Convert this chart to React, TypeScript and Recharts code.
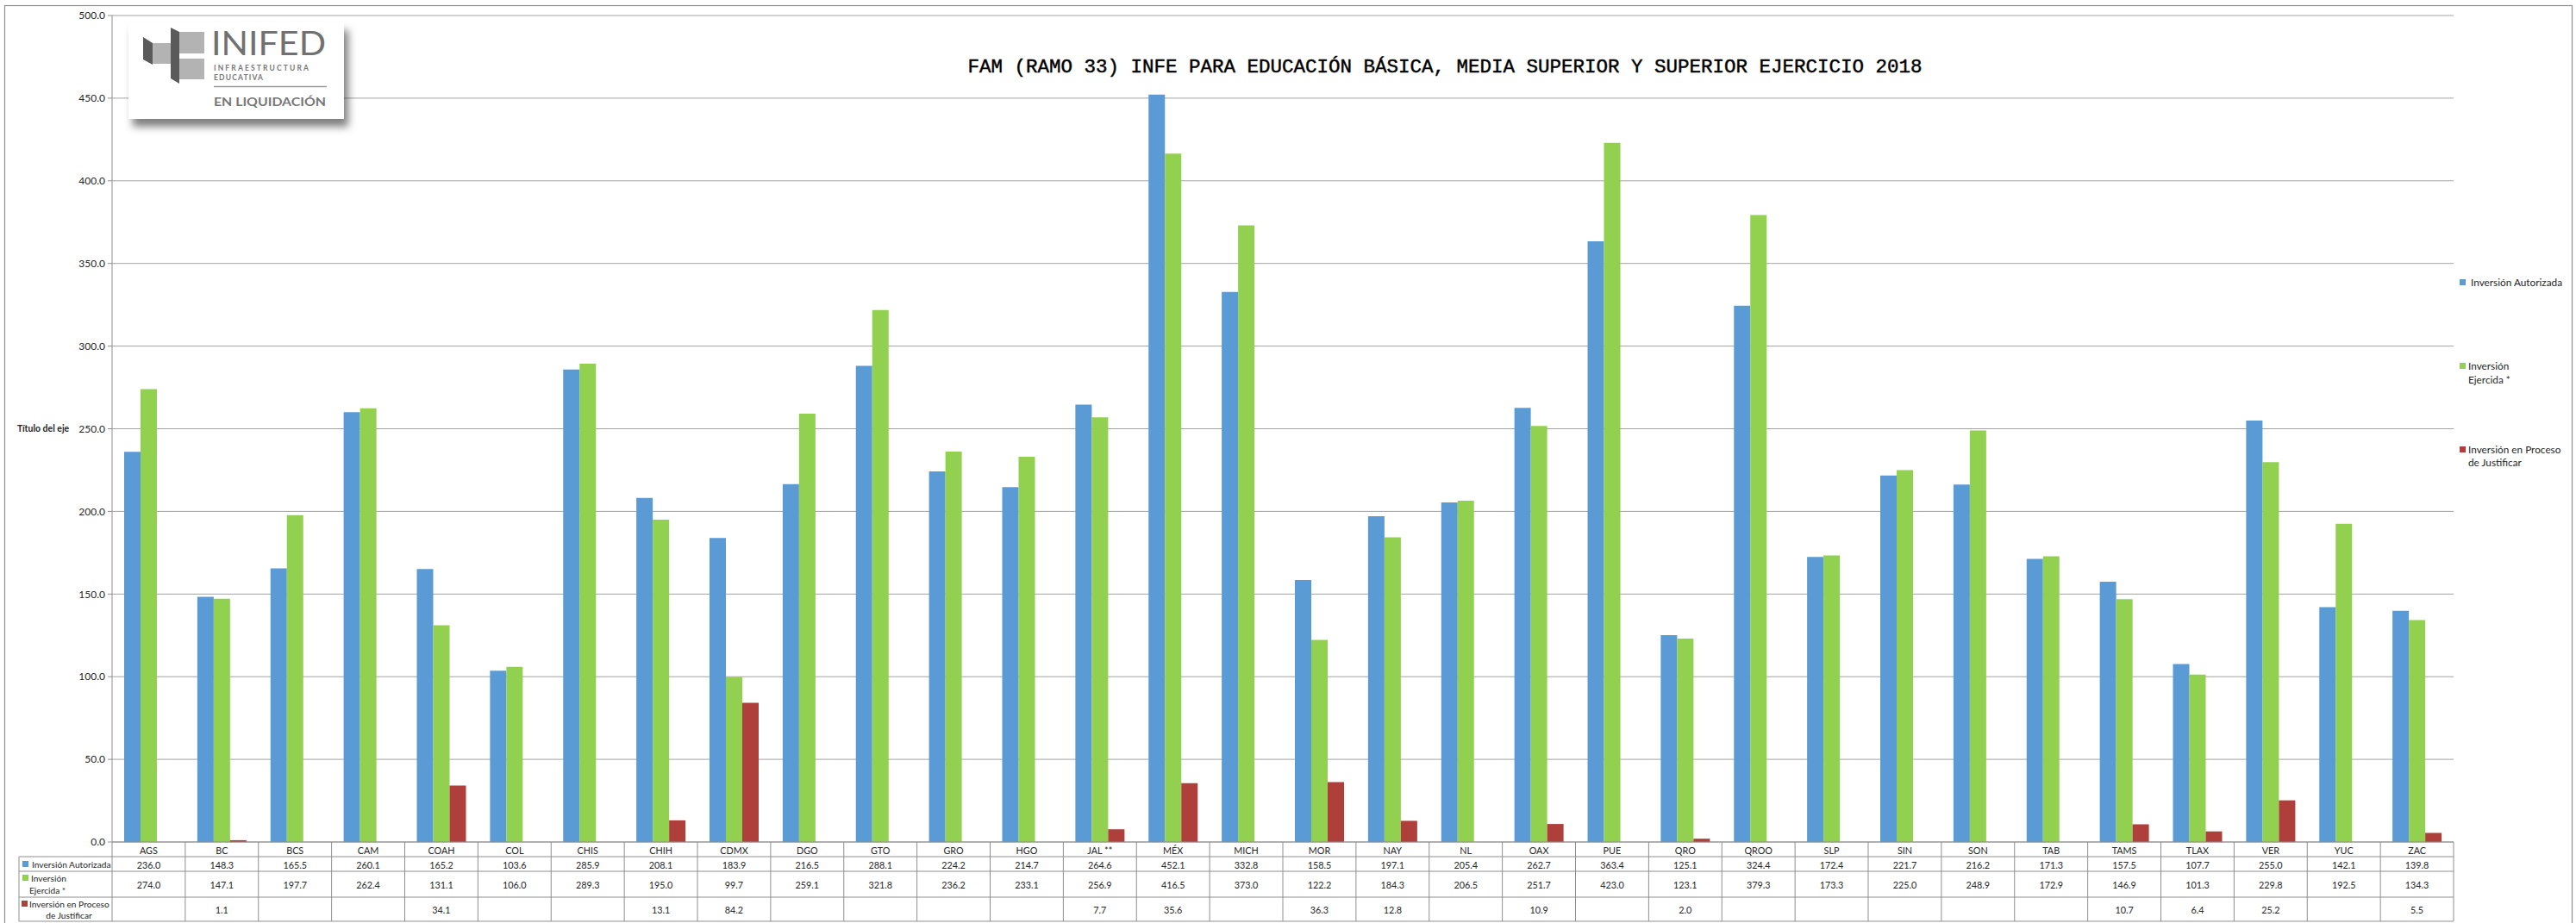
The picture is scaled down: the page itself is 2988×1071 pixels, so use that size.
import React from 'react';
import { BarChart, Bar, XAxis, YAxis, CartesianGrid } from 'recharts';

const categories = ['AGS', 'BC', 'BCS', 'CAM', 'COAH', 'COL', 'CHIS', 'CHIH', 'CDMX', 'DGO', 'GTO', 'GRO', 'HGO', 'JAL **', 'MÉX', 'MICH', 'MOR', 'NAY', 'NL', 'OAX', 'PUE', 'QRO', 'QROO', 'SLP', 'SIN', 'SON', 'TAB', 'TAMS', 'TLAX', 'VER', 'YUC', 'ZAC'];

const autorizada = [236.0, 148.3, 165.5, 260.1, 165.2, 103.6, 285.9, 208.1, 183.9, 216.5, 288.1, 224.2, 214.7, 264.6, 452.1, 332.8, 158.5, 197.1, 205.4, 262.7, 363.4, 125.1, 324.4, 172.4, 221.7, 216.2, 171.3, 157.5, 107.7, 255.0, 142.1, 139.8];

const ejercida = [274.0, 147.1, 197.7, 262.4, 131.1, 106.0, 289.3, 195.0, 99.7, 259.1, 321.8, 236.2, 233.1, 256.9, 416.5, 373.0, 122.2, 184.3, 206.5, 251.7, 423.0, 123.1, 379.3, 173.3, 225.0, 248.9, 172.9, 146.9, 101.3, 229.8, 192.5, 134.3];

const proceso = [null, 1.1, null, null, 34.1, null, null, 13.1, 84.2, null, null, null, null, 7.7, 35.6, null, 36.3, 12.8, null, 10.9, null, 2.0, null, null, null, null, null, 10.7, 6.4, 25.2, null, 5.5];

const yTicks = [0, 50, 100, 150, 200, 250, 300, 350, 400, 450, 500];

const TITLE = 'FAM (RAMO 33) INFE PARA EDUCACIÓN BÁSICA, MEDIA SUPERIOR Y SUPERIOR EJERCICIO 2018';
const AXIS_TITLE = 'Título del eje';

const C_BLUE = '#5B9BD5';
const C_GREEN = '#92D050';
const C_RED = '#AF3F3B';
const GRID = '#a3a3a3';
const LINE = '#8f8f8f';
const TXT = '#262626';
const FONT = 'Lato, "Open Sans", sans-serif';

const W = 2988;
const H = 1071;
const PLOT_LEFT = 130;
const PLOT_RIGHT = 2846;
const PLOT_TOP = 18;
const XAXIS_H = 94;
const BAND = (PLOT_RIGHT - PLOT_LEFT) / categories.length;
const ROWS = [977, 994, 1011, 1041, 1069];
const LABEL_LEFT = 22;

const data = categories.map((name, i) => ({
  name,
  autorizada: autorizada[i],
  ejercida: ejercida[i],
  proceso: proceso[i],
}));

const fmt = (v: number | null) => (v == null ? '' : v.toFixed(1));

const LabelColumn = ({ right }: { right: number }) => {
  const cx = (LABEL_LEFT + right) / 2;
  return (
    <g>
      <line x1={LABEL_LEFT} y1={ROWS[1]} x2={LABEL_LEFT} y2={ROWS[4]} stroke={LINE} />
      {ROWS.slice(1).map((ry) => (
        <line key={ry} x1={LABEL_LEFT} y1={ry} x2={right} y2={ry} stroke={LINE} />
      ))}
      <rect x={26} y={999} width={7} height={7} fill={C_BLUE} />
      <text x={37} y={1003} fontSize={10.2} fontFamily={FONT} fill={TXT} dominantBaseline="central">Inversión Autorizada</text>
      <rect x={26} y={1015} width={7} height={7} fill={C_GREEN} />
      <text x={36} y={1019} fontSize={10.2} fontFamily={FONT} fill={TXT} dominantBaseline="central">Inversión</text>
      <text x={34} y={1033} fontSize={10.2} fontFamily={FONT} fill={TXT} dominantBaseline="central">Ejercida *</text>
      <rect x={25} y={1045} width={7} height={7} fill={C_RED} />
      <text x={34} y={1049} fontSize={10.2} fontFamily={FONT} fill={TXT} dominantBaseline="central">Inversión en Proceso</text>
      <text x={cx + 4} y={1062} fontSize={10.2} fontFamily={FONT} fill={TXT} textAnchor="middle" dominantBaseline="central">de Justificar</text>
    </g>
  );
};

const TableTick = (props: any) => {
  const { x, payload } = props;
  const i = payload.index;
  const left = x - BAND / 2;
  const right = x + BAND / 2;
  const textProps = { fontSize: 10.8, fontFamily: FONT, fill: TXT, textAnchor: 'middle' as const, dominantBaseline: 'central' as const };
  return (
    <g>
      {i === 0 && <LabelColumn right={left} />}
      {i === 0 && <line x1={left} y1={ROWS[0]} x2={left} y2={ROWS[4]} stroke={LINE} />}
      <line x1={right} y1={ROWS[0]} x2={right} y2={ROWS[4]} stroke={LINE} />
      {ROWS.slice(1).map((ry) => (
        <line key={ry} x1={left} y1={ry} x2={right} y2={ry} stroke={LINE} />
      ))}
      <text x={x} y={986} {...textProps}>{categories[i]}</text>
      <text x={x} y={1003} {...textProps}>{fmt(autorizada[i])}</text>
      <text x={x} y={1026} {...textProps}>{fmt(ejercida[i])}</text>
      <text x={x} y={1055} {...textProps}>{fmt(proceso[i])}</text>
    </g>
  );
};

const Overlay = () => (
  <svg width={W} height={H} style={{ position: 'absolute', left: 0, top: 0, pointerEvents: 'none' }}>
    <defs>
      <filter id="logoShadow" x="-10%" y="-20%" width="130%" height="160%">
        <feDropShadow dx="5" dy="9" stdDeviation="5" floodColor="#000" floodOpacity="0.5" />
      </filter>
    </defs>
    <rect x={5.5} y={6.5} width={2978} height={1080} fill="none" stroke={LINE} strokeWidth={1.2} />
    {/* logo */}
    <rect x={149} y={26} width={250} height={112} fill="#fff" filter="url(#logoShadow)" />
    <polygon points="166,43 177,50 177,75 166,69" fill="#5a5a5a" />
    <rect x={177} y={50} width={27} height={24} fill="#b3b3b3" />
    <polygon points="198,32 208,37 208,97 198,91" fill="#5a5a5a" />
    <rect x={208} y={37} width={29} height={25} fill="#b3b3b3" />
    <rect x={208} y={68} width={29} height={24} fill="#b3b3b3" />
    <text x={245} y={64} fontSize={38} fontFamily={FONT} fill="#717171" textLength={133} lengthAdjust="spacingAndGlyphs">INIFED</text>
    <text x={248} y={81.5} fontSize={8.5} fontWeight="bold" fontFamily={FONT} fill="#777" textLength={110} lengthAdjust="spacing">INFRAESTRUCTURA</text>
    <text x={248} y={92.5} fontSize={8.5} fontWeight="bold" fontFamily={FONT} fill="#777" textLength={57} lengthAdjust="spacing">EDUCATIVA</text>
    <line x1={248} y1={100.5} x2={379} y2={100.5} stroke="#9a9a9a" strokeWidth={1.5} />
    <text x={248} y={122.5} fontSize={12.5} fontWeight="bold" fontFamily={FONT} fill="#777" textLength={130} lengthAdjust="spacingAndGlyphs">EN LIQUIDACIÓN</text>
    {/* title */}
    <text x={1676} y={84} fontSize={22.5} fontFamily='"Liberation Mono", "Courier New", monospace' fill="#000" stroke="#000" strokeWidth={0.45} textAnchor="middle">{TITLE}</text>
    {/* axis title */}
    <text x={20} y={497} fontSize={10.5} fontWeight="bold" fontFamily={FONT} fill={TXT} dominantBaseline="central">{AXIS_TITLE}</text>
    {/* legend */}
    <g fontSize={11.8} fontFamily={FONT} fill={TXT}>
      <rect x={2853} y={324} width={7} height={7} fill={C_BLUE} />
      <text x={2866} y={327.5} dominantBaseline="central">Inversión Autorizada</text>
      <rect x={2853} y={421} width={7} height={7} fill={C_GREEN} />
      <text x={2863} y={424.5} dominantBaseline="central">Inversión</text>
      <text x={2863} y={440.5} dominantBaseline="central">Ejercida *</text>
      <rect x={2853} y={518} width={7} height={7} fill={C_RED} />
      <text x={2863} y={521.5} dominantBaseline="central">Inversión en Proceso</text>
      <text x={2863} y={536.5} dominantBaseline="central">de Justificar</text>
    </g>
  </svg>
);

export default function App() {
  return (
    <div style={{ position: 'absolute', left: 0, top: 0, width: W, height: H, background: '#fff', overflow: 'hidden' }}>
      <BarChart
        width={W}
        height={H}
        data={data}
        margin={{ top: PLOT_TOP, right: W - PLOT_RIGHT, bottom: 0, left: 0 }}
        barGap={0}
      >
        <CartesianGrid vertical={false} stroke={GRID} />
        <YAxis
          width={PLOT_LEFT}
          domain={[0, 500]}
          ticks={yTicks}
          interval={0}
          tickFormatter={(v: number) => v.toFixed(1)}
          tick={{ fontSize: 12, fill: TXT, fontFamily: FONT }}
          tickSize={5}
          tickMargin={3}
          axisLine={{ stroke: LINE }}
          tickLine={{ stroke: LINE }}
        />
        <XAxis
          dataKey="name"
          height={XAXIS_H}
          interval={0}
          tickLine={false}
          axisLine={{ stroke: LINE }}
          tick={(p: any) => <TableTick {...p} />}
        />
        <Bar dataKey="autorizada" name="Inversión Autorizada" fill={C_BLUE} barSize={19} isAnimationActive={false} />
        <Bar dataKey="ejercida" name="Inversión Ejercida *" fill={C_GREEN} barSize={19} isAnimationActive={false} />
        <Bar dataKey="proceso" name="Inversión en Proceso de Justificar" fill={C_RED} barSize={19} isAnimationActive={false} />
      </BarChart>
      <Overlay />
    </div>
  );
}
